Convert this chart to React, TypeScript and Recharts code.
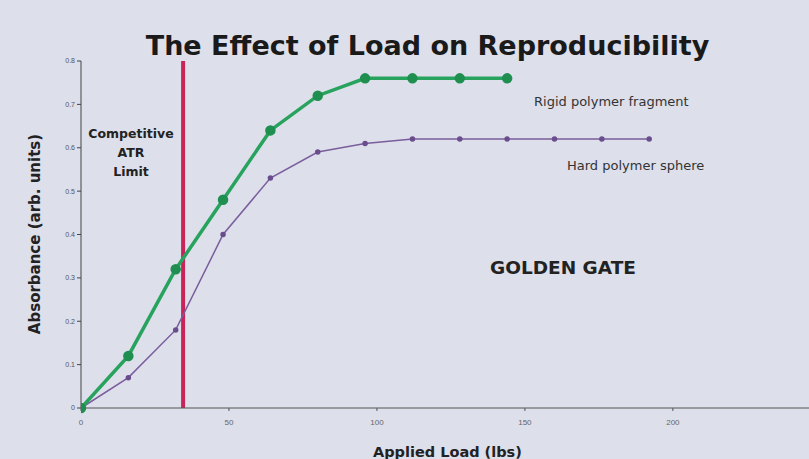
import React from 'react';
import { LineChart, Line, XAxis, YAxis, ReferenceLine } from 'recharts';

const rigidLoads = [0, 16, 32, 48, 64, 80, 96, 112, 128, 144];
const rigidAbs = [0, 0.12, 0.32, 0.48, 0.64, 0.72, 0.76, 0.76, 0.76, 0.76];

const hardLoads = [0, 16, 32, 48, 64, 80, 96, 112, 128, 144, 160, 176, 192];
const hardAbs = [0, 0.07, 0.18, 0.4, 0.53, 0.59, 0.61, 0.62, 0.62, 0.62, 0.62, 0.62, 0.62];

const xTicks = [0, 50, 100, 150, 200];
const yTicks = [0, 0.1, 0.2, 0.3, 0.4, 0.5, 0.6, 0.7, 0.8];
const atrLimit = 34.5;

const rigidData = rigidLoads.map((x, i) => ({ x, y: rigidAbs[i] }));
const hardData = hardLoads.map((x, i) => ({ x, y: hardAbs[i] }));

const font = '"DejaVu Sans", Verdana, sans-serif';
const tickFont = '"Liberation Sans", Arial, sans-serif';

const label = (left: number, top: number, text: React.ReactNode, style: React.CSSProperties = {}) => (
  <div style={{ position: 'absolute', left, top, fontFamily: font, color: '#222', whiteSpace: 'nowrap', lineHeight: 1, ...style }}>
    {text}
  </div>
);

export default function App() {
  return (
    <div style={{ position: 'absolute', left: 0, top: 0, width: 809, height: 459, background: '#dddfeb', overflow: 'hidden' }}>
      <LineChart width={809} height={459} margin={{ top: 61, right: 0, bottom: 0, left: 0 }}>
        <XAxis
          type="number"
          dataKey="x"
          domain={[0, 246]}
          ticks={xTicks}
          height={51}
          allowDataOverflow
          stroke="#555"
          tickSize={3}
          tick={{ fontSize: 8, fill: '#666', fontFamily: tickFont, dy: 6 }}
        />
        <YAxis
          type="number"
          dataKey="y"
          domain={[0, 0.8]}
          ticks={yTicks}
          width={81}
          stroke="#444"
          tickSize={4}
          tickFormatter={(v: number) => (v === 0 ? '0' : v.toFixed(1))}
          tick={{ fontSize: 7, fill: '#555', fontFamily: tickFont }}
        />
        <ReferenceLine x={atrLimit} stroke="#c9245a" strokeWidth={4} ifOverflow="extendDomain" />
        <Line
          data={hardData}
          dataKey="y"
          stroke="#7a5d9c"
          strokeWidth={1.5}
          dot={{ r: 2, fill: '#6a4d8c', stroke: '#6a4d8c' }}
          isAnimationActive={false}
        />
        <Line
          data={rigidData}
          dataKey="y"
          stroke="#27a35e"
          strokeWidth={3.5}
          dot={{ r: 3.5, fill: '#1f8f50', stroke: '#1f8f50' }}
          isAnimationActive={false}
        />
      </LineChart>
      {label(0, 32, 'The Effect of Load on Reproducibility', { width: 855, textAlign: 'center', fontSize: 27, fontWeight: 'bold', color: '#1a1a1a' })}
      <div
        style={{
          position: 'absolute', left: 35, top: 234, transform: 'translate(-50%, -50%) rotate(-90deg)',
          fontFamily: font, fontSize: 15, fontWeight: 'bold', color: '#222', whiteSpace: 'nowrap',
        }}
      >
        Absorbance (arb. units)
      </div>
      {label(373, 445, 'Applied Load (lbs)', { fontSize: 14.5, fontWeight: 'bold' })}
      {label(86, 124, <>Competitive<br />ATR<br />Limit</>, { width: 90, textAlign: 'center', fontSize: 12.5, fontWeight: 'bold', lineHeight: '19px' })}
      {label(534, 95, 'Rigid polymer fragment', { fontSize: 13, color: '#333' })}
      {label(567, 159, 'Hard polymer sphere', { fontSize: 13, color: '#333' })}
      {label(490, 259, 'GOLDEN GATE', { fontSize: 18.5, fontWeight: 'bold', color: '#222' })}
    </div>
  );
}
